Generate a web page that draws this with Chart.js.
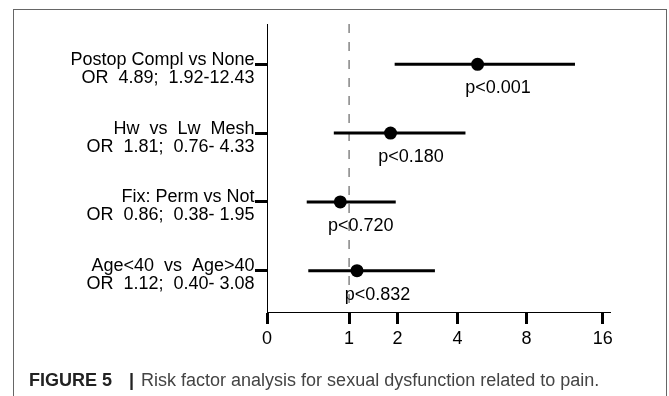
<!DOCTYPE html>
<html lang="en">
<head>
  <meta charset="UTF-8">
  <title>Figure 5 – Risk factor analysis</title>
  <script src="https://cdn.jsdelivr.net/npm/chart.js"></script>
  <style>
    body { margin: 0; background: #fff; font-family: "Liberation Sans", Arial, sans-serif; }
    .frame { position: absolute; left: 13px; top: 9px; width: 652px; height: 420px; border: 1px solid #666; }
    #forest { position: absolute; left: 0; top: 0; }
    .caption { position: absolute; left: 29px; top: 370px; font-size: 18px; color: #444; white-space: nowrap; }
    .caption b { color: #222; }
    .caption .bar { color: #222; font-weight: bold; margin-left: 17px; }
    .caption .txt { margin-left: 7px; }
  </style>
</head>
<body>

<div class="frame"></div>
<canvas id="forest" width="669" height="396"></canvas>
<div class="caption"><b>FIGURE 5</b><span class="bar">|</span><span class="txt">Risk factor analysis for sexual dysfunction related to pain.</span></div>

<script>
const rowNames = ["Postop Compl vs None", "Hw  vs  Lw  Mesh", "Fix: Perm vs Not", "Age<40  vs  Age>40"];
const oddsRatio = [4.89, 1.81, 0.86, 1.12];
const ciLow = [1.92, 0.76, 0.38, 0.40];
const ciHigh = [12.43, 4.33, 1.95, 3.08];
const pLabels = ["p<0.001", "p<0.180", "p<0.720", "p<0.832"];
const xTicks = [0, 1, 2, 4, 8, 16];
const refValue = 1;

Chart.defaults.font.family = '"Liberation Sans", Arial, sans-serif';
Chart.defaults.color = "#000";

// the original axis is stretched unevenly between ticks, so map piecewise
class ForestScale extends Chart.LinearScale {
  static id = "forest";
  static defaults = { ticks: { callback: v => String(v) } };

  toFrac(v) {
    const vals = this.options.anchors, fr = this.options.anchorFrac;
    if (v <= vals[0]) return fr[0];
    for (let i = 0; i < vals.length - 1; i++) {
      if (v <= vals[i + 1] || i === vals.length - 2) {
        let t;
        if (vals[i] === 0) t = Math.pow(v / vals[i + 1], 0.75);
        else t = Math.log(v / vals[i]) / Math.log(vals[i + 1] / vals[i]);
        return fr[i] + t * (fr[i + 1] - fr[i]);
      }
    }
    return 1;
  }
  getPixelForValue(value) {
    return this.getPixelForDecimal(this.toFrac(value));
  }
}
Chart.register(ForestScale);

const orText = i => "OR  " + oddsRatio[i].toFixed(2) + ";  " + ciLow[i].toFixed(2) + "-" + ciHigh[i].toFixed(2).padStart(5);

const ciSets = rowNames.map((n, i) => ({
  type: "line",
  data: [{ x: ciLow[i], y: i }, { x: ciHigh[i], y: i }],
  borderColor: "#000",
  borderWidth: 3,
  pointRadius: 0,
  clip: false
}));

const extras = {
  id: "extras",
  beforeDatasetsDraw(chart) {
    const { ctx, chartArea, scales } = chart;
    const px = scales.x.getPixelForValue(refValue);
    ctx.save();
    ctx.strokeStyle = "#666";
    ctx.lineWidth = 1.2;
    ctx.setLineDash([9, 9]);
    ctx.beginPath();
    ctx.moveTo(px, chartArea.top);
    ctx.lineTo(px, chartArea.bottom);
    ctx.stroke();
    ctx.restore();
  },
  afterDatasetsDraw(chart) {
    const { ctx, scales } = chart;
    ctx.save();
    ctx.font = '18px "Liberation Sans", Arial, sans-serif';
    ctx.fillStyle = "#000";
    ctx.textAlign = "center";
    ctx.textBaseline = "alphabetic";
    pLabels.forEach((p, i) => {
      ctx.fillText(p, scales.x.getPixelForValue(oddsRatio[i]) + 20.5, scales.y.getPixelForValue(i) + 29);
    });
    ctx.restore();
  }
};

new Chart(document.getElementById("forest"), {
  type: "scatter",
  data: {
    datasets: [
      {
        type: "scatter",
        data: oddsRatio.map((v, i) => ({ x: v, y: i })),
        pointRadius: 6.5,
        backgroundColor: "#000",
        borderWidth: 0
      },
      ...ciSets
    ]
  },
  options: {
    responsive: false,
    animation: false,
    events: [],
    layout: { padding: { left: 0, top: 24, right: 59, bottom: 44 } },
    plugins: { legend: { display: false }, tooltip: { enabled: false } },
    scales: {
      x: {
        type: "forest",
        min: 0,
        max: 17.1,
        anchors: [0, 1, 2, 4, 8, 16, 17.1],
        anchorFrac: [0, 0.2393, 0.3805, 0.5556, 0.7569, 0.9787, 1],
        afterBuildTicks: s => { s.ticks = xTicks.map(v => ({ value: v })); },
        afterFit: s => { s.height = 40; },
        grid: { drawOnChartArea: false, tickLength: 12, tickWidth: 3, tickColor: "#000" },
        border: { display: true, color: "#000", width: 1 },
        ticks: { autoSkip: false, maxRotation: 0, padding: 4, font: { size: 18 }, callback: v => String(v) }
      },
      y: {
        type: "linear",
        reverse: true,
        min: -0.586,
        max: 3.6,
        afterBuildTicks: s => { s.ticks = rowNames.map((n, i) => ({ value: i })); },
        afterFit: s => { s.width = 267; },
        grid: { drawOnChartArea: false, tickLength: 12, tickWidth: 3, tickColor: "#000" },
        border: { display: true, color: "#000", width: 1 },
        ticks: {
          autoSkip: false,
          padding: 0.5,
          labelOffset: 4.5,
          font: { size: 18, lineHeight: 1.0 },
          callback: v => [rowNames[v], orText(v)]
        }
      }
    }
  },
  plugins: [extras]
});
</script>

</body>
</html>
